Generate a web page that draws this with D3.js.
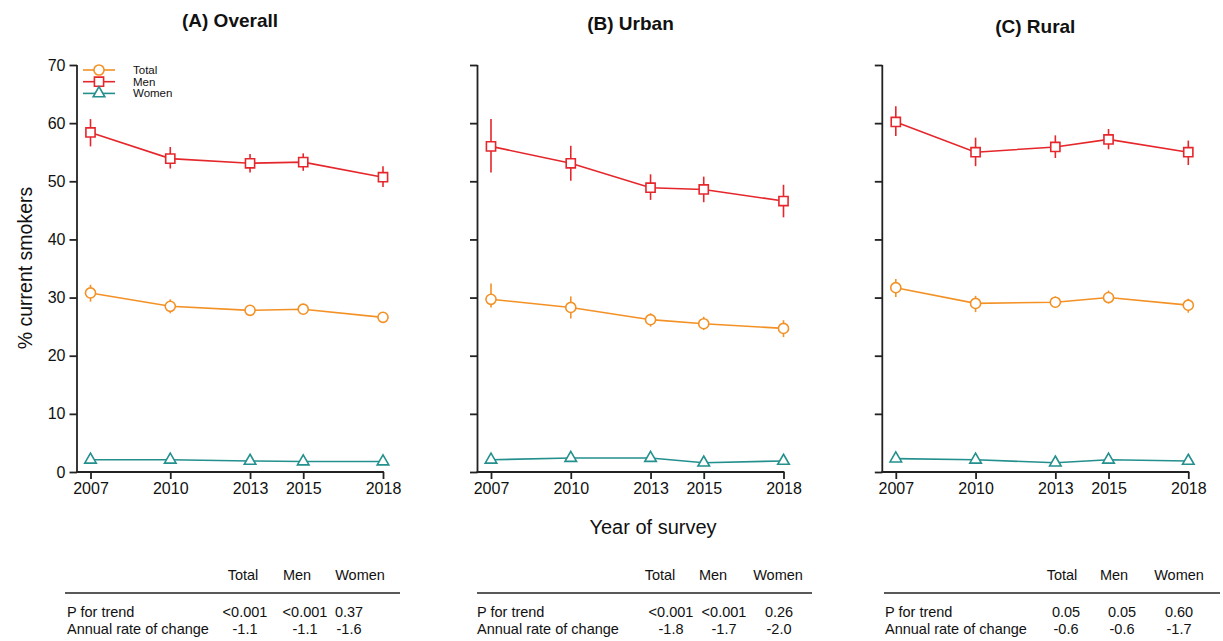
<!DOCTYPE html>
<html>
<head>
<meta charset="utf-8">
<script src="https://cdn.jsdelivr.net/npm/d3@7"></script>
<style>
  html, body { margin: 0; padding: 0; background: #fff; }
  svg { display: block; font-family: "Liberation Sans", Arial, Helvetica, sans-serif; }
</style>
</head>
<body>
<svg id="chart" width="1223" height="641"></svg>
<script>
// Survey years
const years = [2007, 2010, 2013, 2015, 2018];
const yTicks = [0, 10, 20, 30, 40, 50, 60, 70];
const panelTitles = ["(A) Overall", "(B) Urban", "(C) Rural"];
const seriesNames = ["Total", "Men", "Women"];

// Prevalence of current smoking (%), with 95% confidence intervals
const overallTotal   = [30.8, 28.5, 27.8, 28.0, 26.6];
const overallTotalCI = [[29.3, 32.2], [27.3, 29.7], [27.2, 28.5], [27.4, 28.6], [26.0, 27.3]];
const overallMen     = [58.4, 53.9, 53.1, 53.3, 50.7];
const overallMenCI   = [[56.0, 60.7], [52.2, 55.9], [51.5, 54.7], [51.8, 54.8], [49.0, 52.6]];
const overallWomen   = [2.1, 2.1, 1.9, 1.8, 1.8];
const overallWomenCI = [[1.8, 2.4], [1.8, 2.4], [1.6, 2.2], [1.5, 2.1], [1.5, 2.1]];

const urbanTotal   = [29.7, 28.3, 26.2, 25.5, 24.7];
const urbanTotalCI = [[28.3, 32.4], [26.4, 30.2], [25.0, 27.3], [24.4, 26.7], [23.2, 26.1]];
const urbanMen     = [56.0, 53.1, 48.9, 48.6, 46.6];
const urbanMenCI   = [[51.5, 60.7], [50.1, 56.1], [46.8, 51.2], [46.4, 50.8], [43.8, 49.4]];
const urbanWomen   = [2.1, 2.4, 2.4, 1.6, 1.9];
const urbanWomenCI = [[1.7, 2.5], [2.0, 2.8], [2.0, 2.8], [1.2, 2.0], [1.5, 2.3]];

const ruralTotal   = [31.7, 29.0, 29.2, 30.0, 28.7];
const ruralTotalCI = [[30.1, 33.2], [27.5, 30.3], [28.2, 30.2], [29.0, 31.2], [27.4, 29.8]];
const ruralMen     = [60.2, 55.0, 55.9, 57.2, 55.0];
const ruralMenCI   = [[57.8, 62.9], [52.6, 57.5], [54.0, 57.9], [55.5, 59.0], [52.8, 57.0]];
const ruralWomen   = [2.3, 2.1, 1.6, 2.1, 1.9];
const ruralWomenCI = [[1.8, 2.8], [1.8, 2.4], [1.3, 1.9], [1.8, 2.4], [1.6, 2.2]];

// Trend statistics shown beneath each panel
const rowLabels = ["P for trend", "Annual rate of change"];
const overallTrendP  = ["<0.001", "<0.001", "0.37"];
const overallAnnual  = ["-1.1", "-1.1", "-1.6"];
const urbanTrendP    = ["<0.001", "<0.001", "0.26"];
const urbanAnnual    = ["-1.8", "-1.7", "-2.0"];
const ruralTrendP    = ["0.05", "0.05", "0.60"];
const ruralAnnual    = ["-0.6", "-0.6", "-1.7"];

// ---- assemble panels ----
const panels = [
  { title: panelTitles[0],
    series: [[overallTotal, overallTotalCI], [overallMen, overallMenCI], [overallWomen, overallWomenCI]],
    stats: [overallTrendP, overallAnnual] },
  { title: panelTitles[1],
    series: [[urbanTotal, urbanTotalCI], [urbanMen, urbanMenCI], [urbanWomen, urbanWomenCI]],
    stats: [urbanTrendP, urbanAnnual] },
  { title: panelTitles[2],
    series: [[ruralTotal, ruralTotalCI], [ruralMen, ruralMenCI], [ruralWomen, ruralWomenCI]],
    stats: [ruralTrendP, ruralAnnual] }
];

// Layout of each panel: y-axis position, title baseline, table geometry
const layout = [
  { ax: 77,    titleY: 27, rule: [65, 400],   labelX: 67,  head: [243, 297, 360],   vals: [245, 305, 349] },
  { ax: 477.5, titleY: 30, rule: [477, 812],  labelX: 477, head: [660, 713, 778],   vals: [671, 724, 779] },
  { ax: 882.3, titleY: 33, rule: [884, 1220], labelX: 885, head: [1062, 1114, 1179], vals: [1066, 1122, 1179] }
];

const colors = ["#F39125", "#E5262B", "#23908E"];
const symbols = [d3.symbolCircle, d3.symbolSquare, d3.symbolTriangle];
const symSizes = [80, 84, 58];
const axisColor = "#222";

const svg = d3.select("#chart");
const y = d3.scaleLinear().domain([0, 70]).range([472, 65]);

panels.forEach((p, i) => {
  const L = layout[i];
  const x = d3.scaleLinear().domain([2007, 2018]).range([L.ax + 13.5, L.ax + 306]);
  const g = svg.append("g");

  // title
  g.append("text")
    .attr("x", (L.ax + x(2018)) / 2)
    .attr("y", L.titleY)
    .attr("text-anchor", "middle")
    .attr("font-size", 19)
    .attr("font-weight", "bold")
    .attr("fill", "#111")
    .text(p.title);

  // y axis
  const yAxis = d3.axisLeft(y).tickValues(yTicks).tickSize(7.5).tickSizeOuter(0).tickPadding(4);
  if (i > 0) yAxis.tickFormat("");
  const ya = g.append("g").attr("transform", `translate(${L.ax},0)`).call(yAxis);
  ya.select(".domain").remove();
  ya.selectAll(".tick line").attr("stroke", axisColor).attr("stroke-width", 1.8);
  ya.selectAll(".tick text").attr("font-size", 16).attr("fill", "#111")
    .attr("font-family", "'Liberation Sans', Arial, sans-serif");
  g.append("line")
    .attr("x1", L.ax).attr("x2", L.ax)
    .attr("y1", y(0) + 0.9).attr("y2", y(70))
    .attr("stroke", axisColor).attr("stroke-width", 1.8);

  // x axis
  const xAxis = d3.axisBottom(x).tickValues(years).tickFormat(d3.format("d"))
    .tickSize(7).tickSizeOuter(0).tickPadding(4);
  const xa = g.append("g").attr("transform", `translate(0,${y(0)})`).call(xAxis);
  xa.select(".domain").remove();
  xa.selectAll(".tick line").attr("stroke", axisColor).attr("stroke-width", 1.8);
  xa.selectAll(".tick text").attr("font-size", 16).attr("fill", "#111")
    .attr("font-family", "'Liberation Sans', Arial, sans-serif");
  g.append("line")
    .attr("x1", L.ax - 0.9).attr("x2", x(2018) + 0.9)
    .attr("y1", y(0)).attr("y2", y(0))
    .attr("stroke", axisColor).attr("stroke-width", 1.8);

  // series: error bars, connecting line, hollow markers
  p.series.forEach(([vals, ci], s) => {
    const pts = years.map((yr, k) => ({ yr, v: vals[k], lo: ci[k][0], hi: ci[k][1] }));
    g.append("g").selectAll("line").data(pts).join("line")
      .attr("x1", d => x(d.yr)).attr("x2", d => x(d.yr))
      .attr("y1", d => y(d.lo)).attr("y2", d => y(d.hi))
      .attr("stroke", colors[s]).attr("stroke-width", 1.6);
    g.append("path").datum(pts)
      .attr("fill", "none").attr("stroke", colors[s]).attr("stroke-width", 1.6)
      .attr("d", d3.line().x(d => x(d.yr)).y(d => y(d.v)));
    g.append("g").selectAll("path").data(pts).join("path")
      .attr("transform", d => `translate(${x(d.yr)},${y(d.v)})`)
      .attr("d", d3.symbol().type(symbols[s]).size(symSizes[s]))
      .attr("fill", "#fff").attr("stroke", colors[s]).attr("stroke-width", 1.6);
  });

  // statistics table
  const t = svg.append("g").attr("font-size", 14.5).attr("fill", "#111");
  seriesNames.forEach((n, c) => {
    t.append("text").attr("x", L.head[c]).attr("y", 580).attr("text-anchor", "middle").text(n);
  });
  t.append("line").attr("x1", L.rule[0]).attr("x2", L.rule[1]).attr("y1", 593).attr("y2", 593)
    .attr("stroke", "#222").attr("stroke-width", 1.3);
  rowLabels.forEach((r, ri) => {
    const yy = 617 + ri * 17;
    t.append("text").attr("x", L.labelX).attr("y", yy).text(r);
    p.stats[ri].forEach((v, c) => {
      t.append("text").attr("x", L.vals[c]).attr("y", yy).attr("text-anchor", "middle").text(v);
    });
  });
});

// legend inside panel A
const legend = svg.append("g");
seriesNames.forEach((n, s) => {
  const ly = 70 + s * 11.7;
  legend.append("line").attr("x1", 83).attr("x2", 115).attr("y1", ly).attr("y2", ly)
    .attr("stroke", colors[s]).attr("stroke-width", 1.6);
  legend.append("path").attr("transform", `translate(99,${ly})`)
    .attr("d", d3.symbol().type(symbols[s]).size(symSizes[s]))
    .attr("fill", "#fff").attr("stroke", colors[s]).attr("stroke-width", 1.6);
  legend.append("text").attr("x", 133).attr("y", ly + 4).attr("font-size", 11.5).attr("fill", "#111").text(n);
});

// axis titles
svg.append("text")
  .attr("transform", "translate(32,268) rotate(-90)")
  .attr("text-anchor", "middle").attr("font-size", 19.5).attr("fill", "#111")
  .text("% current smokers");
svg.append("text")
  .attr("x", 653).attr("y", 534)
  .attr("text-anchor", "middle").attr("font-size", 20).attr("fill", "#111")
  .text("Year of survey");
</script>
</body>
</html>
